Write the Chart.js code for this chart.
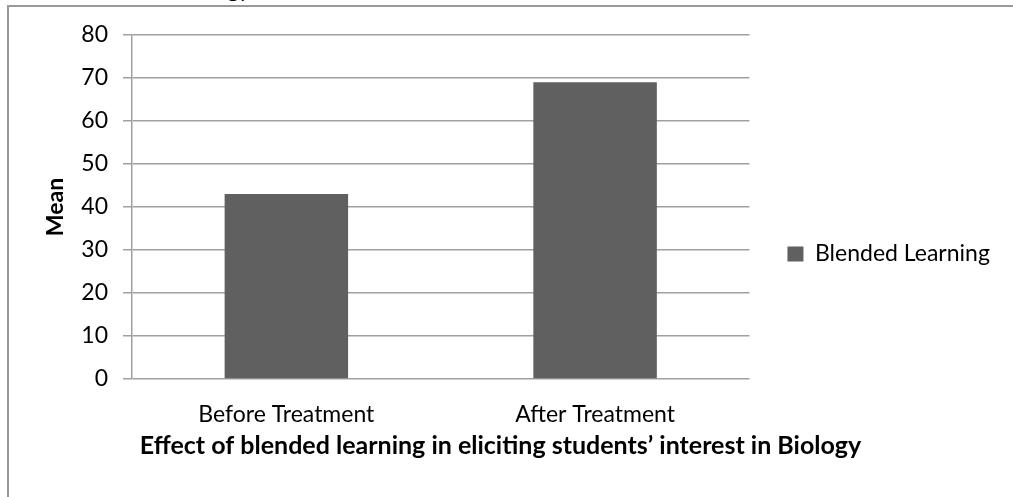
<!DOCTYPE html>
<html>
<head>
<meta charset="utf-8">
<script src="https://cdn.jsdelivr.net/npm/chart.js@4.4.1/dist/chart.umd.min.js"></script>
<style>
  html, body { margin: 0; padding: 0; background: #fff; overflow: hidden; }
  #wrap { position: relative; width: 1013px; height: 497px; overflow: hidden; }
  #frame { position: absolute; left: 7px; top: 5px; width: 1013px; height: 497px;
           border-left: 2px solid #999; border-top: 2px solid #999; pointer-events: none; }
  #above { position: absolute; right: 763px; top: -22px; font: 22px/22px Lato, sans-serif; color: #000; }
  canvas { position: absolute; left: 0; top: 0; }
</style>
</head>
<body>
<div id="wrap">
  <div id="above">Biology</div>
  <canvas id="chart" width="1013" height="497"></canvas>
  <div id="frame"></div>
</div>
<script>
const categories = ['Before Treatment', 'After Treatment'];
const meanScores = [43, 69];
const seriesName = 'Blended Learning';
const yTicks = [0, 10, 20, 30, 40, 50, 60, 70, 80];
const xTitle = 'Effect of blended learning in eliciting students\u2019 interest in Biology';
const yTitle = 'Mean';

const FONT = 'Lato, sans-serif';
const gridGrey = '#a0a0a0';
const barGrey = '#606060';

// legend sits right of the plot, so work out how much room it takes
const legendSize = 23;
const legendPad = 38;
const boxW = 16;
const measureCtx = document.createElement('canvas').getContext('2d');
measureCtx.font = legendSize + 'px ' + FONT;
const legendTextW = measureCtx.measureText(seriesName).width;
const legendW = legendPad + boxW + legendSize / 2 + legendTextW + 10;
const padRight = 1013 - 748 - legendW;
// bottom title is centred on the whole box, shift the left edge so it lands at x~500
const padLeft = padRight - 12;
const yTitleSize = 23;
const yTitleTop = 56 - padLeft - yTitleSize * 1.2 / 2;

Chart.defaults.font.family = FONT;
Chart.defaults.color = '#000';

new Chart(document.getElementById('chart').getContext('2d'), {
  type: 'bar',
  data: {
    labels: categories,
    datasets: [{
      label: seriesName,
      data: meanScores,
      backgroundColor: barGrey,
      borderWidth: 0,
      categoryPercentage: 0.5,
      barPercentage: 0.8
    }]
  },
  options: {
    responsive: false,
    devicePixelRatio: 1,
    animation: false,
    layout: {
      padding: { left: padLeft, top: 35, right: padRight, bottom: 24 }
    },
    plugins: {
      tooltip: { enabled: false },
      legend: {
        position: 'right',
        labels: {
          font: { size: legendSize },
          boxWidth: boxW,
          boxHeight: 15,
          padding: legendPad,
          color: '#000'
        }
      },
      title: {
        display: true,
        position: 'bottom',
        text: xTitle,
        color: '#000',
        font: { size: 25, weight: 'bold' },
        padding: { top: 0, bottom: 12 }
      }
    },
    scales: {
      x: {
        grid: { display: false, drawTicks: false },
        border: { display: false },
        ticks: { font: { size: 23 }, padding: 22, maxRotation: 0, autoSkip: false },
        afterFit: (scale) => { scale.height = 52; }
      },
      y: {
        min: 0,
        max: 80,
        afterBuildTicks: (scale) => { scale.ticks = yTicks.map(v => ({ value: v })); },
        grid: { color: gridGrey, lineWidth: 1.5, tickLength: 9, tickColor: gridGrey },
        border: { display: true, color: gridGrey, width: 1.5 },
        ticks: { font: { size: 23 }, padding: 15 },
        title: {
          display: true,
          text: yTitle,
          font: { size: yTitleSize, weight: 'bold' },
          padding: { top: yTitleTop, bottom: 4 }
        },
        afterFit: (scale) => { scale.width = 132 - padLeft; }
      }
    }
  }
});
</script>
</body>
</html>
